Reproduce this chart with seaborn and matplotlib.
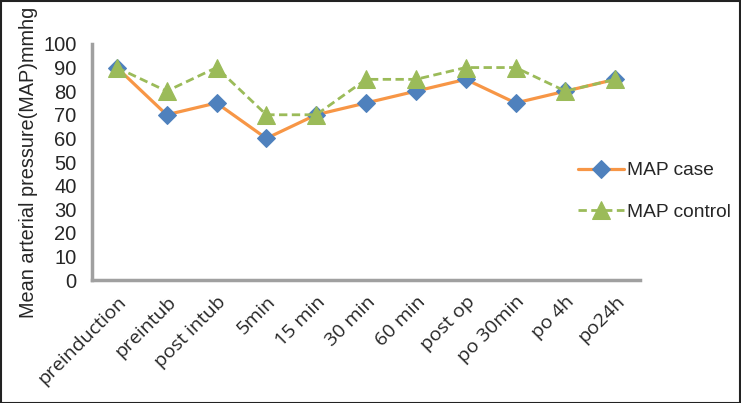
import matplotlib
matplotlib.use("Agg")
import matplotlib.pyplot as plt
import seaborn as sns
import pandas as pd

# data
kategori = ['preinduction', 'preintub', 'post intub', '5min', '15 min', '30 min',
            '60 min', 'post op', 'po 30min', 'po 4h', 'po24h']
map_case = [90, 70, 75, 60, 70, 75, 80, 85, 75, 80, 85]
map_control = [90, 80, 90, 70, 70, 85, 85, 90, 90, 80, 85]

sns.set_style("white")
plt.rcParams['font.family'] = ['Liberation Sans', 'DejaVu Sans']

df = pd.DataFrame({'waktu': kategori, 'MAP case': map_case, 'MAP control': map_control})
df['pos'] = range(len(kategori))

fig = plt.figure(figsize=(7.41, 4.03), dpi=100)
ax = fig.add_axes([0.124, 0.305, 0.74, 0.586])

sns.lineplot(data=df, x='pos', y='MAP case', ax=ax, color='#F79646', linewidth=2.3,
             marker='D', markersize=9, markerfacecolor='#4F81BD', markeredgecolor='#4F81BD',
             label='MAP case')
sns.lineplot(data=df, x='pos', y='MAP control', ax=ax, color='#9BBB59', linewidth=2.0,
             linestyle=(0, (3, 1.6)), marker='^', markersize=13,
             markerfacecolor='#9BBB59', markeredgecolor='#9BBB59', label='MAP control')

ax.set_xlim(-0.5, len(kategori) - 0.5)
ax.set_ylim(0, 100)
ax.set_yticks(range(0, 101, 10))
ax.set_xticks(range(len(kategori)))
ax.set_xticklabels(kategori, rotation=45, ha='right', rotation_mode='anchor',
                   fontsize=14, family=['Open Sans', 'DejaVu Sans'])
ax.set_xticks([i - 0.5 for i in range(len(kategori) + 1)], minor=True)
ax.tick_params(axis='x', which='major', length=0, pad=9)
ax.tick_params(axis='x', which='minor', length=5, width=2, color='#A0A0A0', direction='out')
ax.tick_params(axis='y', length=5, width=2, color='#A0A0A0', direction='out', labelsize=14.5, pad=6)
ax.set_xlabel('')
ax.set_ylabel('Mean arterial pressure(MAP)mmhg', fontsize=14.3, labelpad=4)

for s in ['top', 'right']:
    ax.spines[s].set_visible(False)
for s in ['left', 'bottom']:
    ax.spines[s].set_color('#A0A0A0')
    ax.spines[s].set_linewidth(2.5)

ax.get_legend().remove()
h, l = ax.get_legend_handles_labels()
fig.legend(h, l, loc='center left', bbox_to_anchor=(0.78, 0.525), frameon=False,
           fontsize=13.8, labelspacing=1.25, handlelength=2.4, handletextpad=0.15,
           borderaxespad=0, borderpad=0)

# bingkai hitam di sekeliling gambar
fig.patches.append(plt.Rectangle((0.001, 0.001), 0.998, 0.997, transform=fig.transFigure,
                                 fill=False, edgecolor='#222222', linewidth=1.5))

plt.savefig('out.png', dpi=100)
plt.close()
